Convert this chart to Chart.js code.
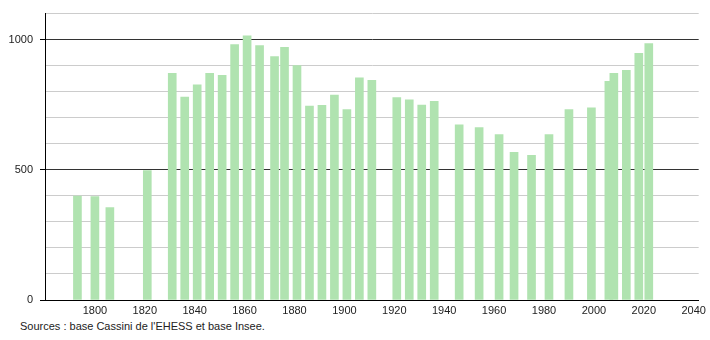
<!DOCTYPE html>
<html lang="fr">
<head>
  <meta charset="UTF-8">
  <title>Population</title>
  <script src="https://cdn.jsdelivr.net/npm/chart.js"></script>
  <style>
    body {
      margin: 0;
      background: #fff;
      font-family: "Liberation Sans", Arial, sans-serif;
    }
    #wrap {
      position: relative;
      width: 710px;
      height: 340px;
    }
    #source {
      position: absolute;
      left: 20px;
      top: 320px;
      font-size: 11px;
      color: #222;
    }
  </style>
</head>
<body>
  <div id="wrap">
    <canvas id="popChart" width="710" height="318"></canvas>
    <div id="source">Sources : base Cassini de l'EHESS et base Insee.</div>
  </div>

  <script>
    const years = [1793, 1800, 1806, 1821, 1831, 1836, 1841, 1846, 1851, 1856,
                   1861, 1866, 1872, 1876, 1881, 1886, 1891, 1896, 1901, 1906,
                   1911, 1921, 1926, 1931, 1936, 1946, 1954, 1962, 1968, 1975,
                   1982, 1990, 1999, 2006, 2008, 2013, 2018, 2022];
    const population = [399, 397, 355, 497, 871, 779, 826, 871, 863, 981,
                        1015, 977, 935, 970, 900, 745, 748, 787, 731, 853,
                        844, 777, 769, 749, 763, 673, 662, 635, 567, 556,
                        635, 731, 738, 840, 871, 882, 947, 985];
    const xTicks = [1800, 1820, 1840, 1860, 1880, 1900, 1920, 1940, 1960, 1980, 2000, 2020, 2040];
    const yLabels = [0, 500, 1000];

    const points = years.map((y, i) => ({ x: y, y: population[i] }));

    const ctx = document.getElementById('popChart').getContext('2d');
    new Chart(ctx, {
      type: 'bar',
      data: {
        datasets: [{
          data: points,
          backgroundColor: '#b0e3b0',
          borderWidth: 0,
          barThickness: 8
        }]
      },
      options: {
        responsive: false,
        animation: false,
        layout: { padding: { top: 10, right: 9, left: 0, bottom: 0 } },
        plugins: {
          legend: { display: false },
          tooltip: { enabled: false }
        },
        scales: {
          x: {
            type: 'linear',
            offset: false,
            min: 1780,
            max: 2042,
            afterBuildTicks: scale => {
              scale.ticks = xTicks.map(v => ({ value: v }));
            },
            afterFit: scale => { scale.height = 18; },
            grid: { display: false, drawTicks: false },
            border: { display: true, color: '#000', width: 1 },
            ticks: {
              color: '#222',
              padding: 4,
              maxRotation: 0,
              autoSkip: false,
              font: { family: 'Liberation Sans, Arial, sans-serif', size: 11 },
              callback: v => String(v)
            }
          },
          y: {
            min: 0,
            max: 1100,
            afterFit: scale => { scale.width = 45; },
            grid: {
              color: c => (c.tick && c.tick.value % 500 === 0) ? '#333' : '#cccccc',
              tickLength: 5,
              tickColor: c => (c.tick && c.tick.value % 500 === 0 && c.tick.value < 1100) ? '#000' : 'rgba(0,0,0,0)'
            },
            border: { display: true, color: '#000', width: 1 },
            ticks: {
              stepSize: 100,
              color: '#222',
              padding: 7,
              font: { family: 'Liberation Sans, Arial, sans-serif', size: 11 },
              callback: v => yLabels.includes(v) ? String(v) : ''
            }
          }
        }
      }
    });
  </script>
</body>
</html>
